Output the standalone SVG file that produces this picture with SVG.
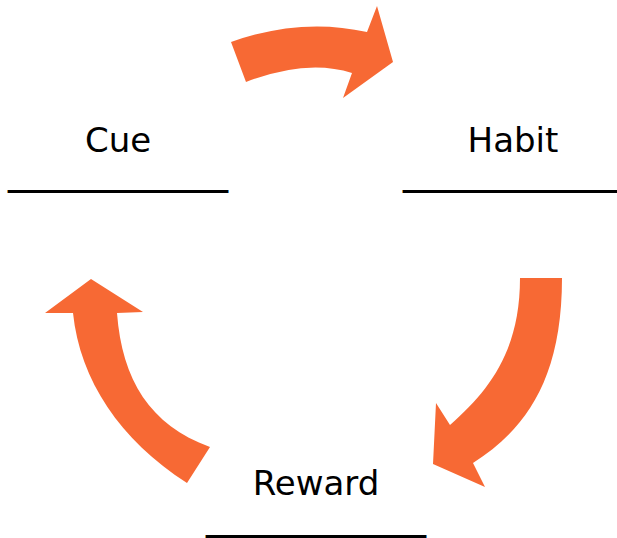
<svg xmlns="http://www.w3.org/2000/svg" width="617" height="538" viewBox="0 0 617 538">
<style>
.lbl{font-family:"DejaVu Sans",Verdana,sans-serif;font-size:34px;fill:#000;text-anchor:middle}
.ul{font-family:"DejaVu Sans",Verdana,sans-serif;font-size:44px;fill:#000;text-anchor:middle}
.arr{fill:#F76934;stroke:none}
</style>
<rect width="617" height="538" fill="#fff"/>
<g id="connectors">
<path class="arr" d="M231,42 Q301,17 367,32 L377,6 L393,62 L343,98 L352,73 Q307,58.5 246,82 Z"/>
<path class="arr" d="M520,278 L562,278 C562,380 525,430 473,463 L485,487 L433,464 L436,403 L450,425 C490,390 520,350 520,278 Z"/>
<path class="arr" d="M91,279 L143,312 L117,313 C122,380 150,425 210,447 L187,483 C120,440 80,380 73,313 L45,313 Z"/>
</g>
<g id="cue">
<text class="lbl" x="118" y="152">Cue</text>
<text class="ul" x="118" y="182">__________</text>
</g>
<g id="habit">
<text class="lbl" x="513" y="152">Habit</text>
<text class="ul" x="513" y="182">__________</text>
</g>
<g id="reward">
<text class="lbl" x="316" y="495">Reward</text>
<text class="ul" x="316" y="527">__________</text>
</g>
</svg>
